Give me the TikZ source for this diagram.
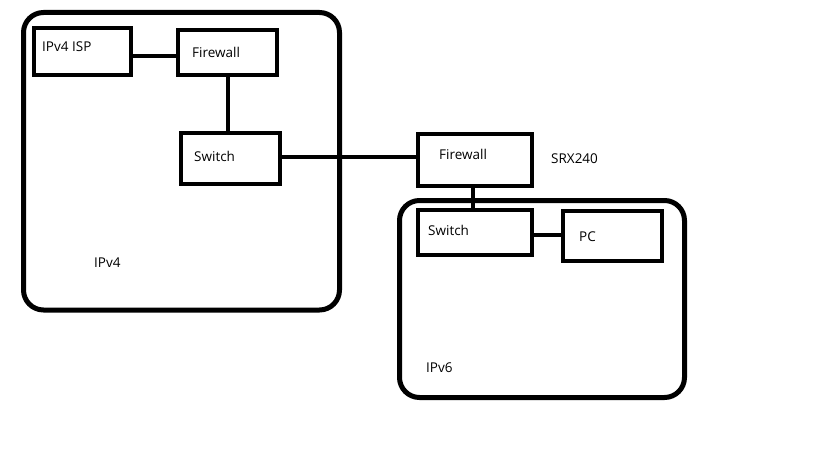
\documentclass[tikz,border=0pt]{standalone}
\usepackage{fontspec}
\setmainfont{Open Sans}
\begin{document}
\begin{tikzpicture}[x=1pt,y=-1pt,
  zone/.style={draw=black,line width=5pt,rounded corners=20pt},
  dev/.style={draw=black,line width=4.5pt,rectangle,inner sep=0pt},
  txt/.style={anchor=west,inner sep=0pt,font=\fontsize{13.5}{16}\selectfont},
  link/.style={line width=4.5pt}]
\useasboundingbox (0,0) rectangle (819,460);
\draw[zone] (23.5,12.5) rectangle (339.5,310);
\draw[zone] (399.5,200.5) rectangle (684.5,397.5);
\node[dev,minimum width=97pt,minimum height=47pt] (isp) at (82.5,51.5) {};
\node[dev,minimum width=99pt,minimum height=45pt] (fw1) at (227.5,52.5) {};
\node[dev,minimum width=99pt,minimum height=51pt] (sw1) at (230.5,158.5) {};
\node[dev,minimum width=114pt,minimum height=52pt] (fw2) at (475,160) {};
\node[dev,minimum width=114pt,minimum height=45pt] (sw2) at (475,232.5) {};
\node[dev,minimum width=99pt,minimum height=50pt] (pc) at (612.5,236) {};
\node[txt] (ispt) at (42,47) {IPv4 ISP};
\node[txt] (fw1t) at (192,52) {Firewall};
\node[txt] (sw1t) at (194,156) {Switch};
\node[txt] (fw2t) at (439,154) {Firewall};
\node[txt] (sw2t) at (428,230) {Switch};
\node[txt] (pct) at (579,237) {PC};
\node[txt] (srx) at (551,159) {SRX240};
\node[txt] (v4) at (94,263) {IPv4};
\node[txt] (v6) at (426,368) {IPv6};
\draw[link] (isp.east |- 0,56) -- (fw1.west |- 0,56);
\draw[link] (fw1.south -| 228,0) -- (sw1.north -| 228,0);
\draw[link] (sw1.east |- 0,157) -- (fw2.west |- 0,157);
\draw[link] (fw2.south -| 473,0) -- (sw2.north -| 473,0);
\draw[link] (sw2.east |- 0,235) -- (pc.west |- 0,235);
\end{tikzpicture}
\end{document}
